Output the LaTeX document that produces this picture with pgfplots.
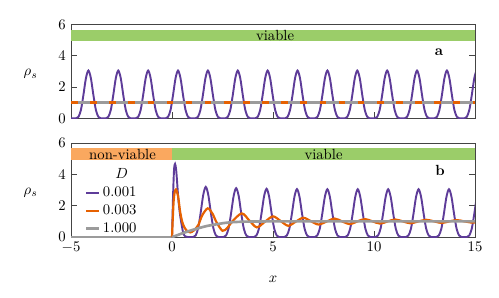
\documentclass[border=0pt]{standalone}
\usepackage{pgfplots}
\pgfplotsset{compat=1.18}
\definecolor{cpur}{HTML}{5E3C99}
\definecolor{corg}{HTML}{E66101}
\definecolor{cgry}{HTML}{9B9B9B}
\definecolor{bgreen}{HTML}{9BCD69}
\definecolor{borange}{HTML}{FAA85F}
\definecolor{framec}{HTML}{444444}
\pgfplotsset{
  myaxis/.style={
    scale only axis, width=274.7pt, height=64pt,
    xmin=-5, xmax=15, ymin=0, ymax=6,
    xtick={-5,0,5,10,15}, ytick={0,2,4,6},
    xtick pos=left, ytick pos=both, yticklabel pos=left,
    tick align=inside,
    axis line style={framec, line width=0.6pt},
    major tick style={framec, line width=0.6pt},
    ylabel={$\rho_s$},
    ylabel style={rotate=-90, at={(axis description cs:-0.1,0.47)}, anchor=center},
  },
  legend image code/.code={\draw[#1] (0cm,0cm) -- (0.3cm,0cm);},
}
\begin{document}
\begin{tikzpicture}
% top panel
\begin{axis}[myaxis, at={(0,80.7pt)}, anchor=south west, xticklabels={}]
\addplot[draw=none, fill=bgreen, forget plot] coordinates {(-5,4.92) (15,4.92) (15,5.66) (-5,5.66)} -- cycle;
\node at (axis cs:5.1,5.29) {viable};
\addplot[cpur, line width=1.3pt, smooth] coordinates {
(-5,0)
(-4.880,0) (-4.756,0) (-4.633,0.10) (-4.510,0.54) (-4.387,1.49) (-4.263,2.56) (-4.140,3.05) (-4.017,2.56) (-3.893,1.49) (-3.770,0.54) (-3.647,0.10) (-3.524,0)
(-3.401,0) (-3.277,0) (-3.154,0.10) (-3.031,0.54) (-2.908,1.49) (-2.784,2.56) (-2.661,3.05) (-2.538,2.56) (-2.414,1.49) (-2.291,0.54) (-2.168,0.10) (-2.045,0)
(-1.922,0) (-1.798,0) (-1.675,0.10) (-1.552,0.54) (-1.429,1.49) (-1.305,2.56) (-1.182,3.05) (-1.059,2.56) (-0.935,1.49) (-0.812,0.54) (-0.689,0.10) (-0.566,0)
(-0.443,0) (-0.319,0) (-0.196,0.10) (-0.073,0.54) (0.050,1.49) (0.174,2.56) (0.297,3.05) (0.420,2.56) (0.544,1.49) (0.667,0.54) (0.790,0.10) (0.913,0)
(1.036,0) (1.160,0) (1.283,0.10) (1.406,0.54) (1.529,1.49) (1.653,2.56) (1.776,3.05) (1.899,2.56) (2.023,1.49) (2.146,0.54) (2.269,0.10) (2.392,0)
(2.515,0) (2.639,0) (2.762,0.10) (2.885,0.54) (3.008,1.49) (3.132,2.56) (3.255,3.05) (3.378,2.56) (3.502,1.49) (3.625,0.54) (3.748,0.10) (3.871,0)
(3.994,0) (4.118,0) (4.241,0.10) (4.364,0.54) (4.487,1.49) (4.611,2.56) (4.734,3.05) (4.857,2.56) (4.981,1.49) (5.104,0.54) (5.227,0.10) (5.350,0)
(5.473,0) (5.597,0) (5.720,0.10) (5.843,0.54) (5.966,1.49) (6.090,2.56) (6.213,3.05) (6.336,2.56) (6.460,1.49) (6.583,0.54) (6.706,0.10) (6.829,0)
(6.952,0) (7.076,0) (7.199,0.10) (7.322,0.54) (7.445,1.49) (7.569,2.56) (7.692,3.05) (7.815,2.56) (7.939,1.49) (8.062,0.54) (8.185,0.10) (8.308,0)
(8.431,0) (8.555,0) (8.678,0.10) (8.801,0.54) (8.924,1.49) (9.048,2.56) (9.171,3.05) (9.294,2.56) (9.418,1.49) (9.541,0.54) (9.664,0.10) (9.787,0)
(9.910,0) (10.034,0) (10.157,0.10) (10.280,0.54) (10.403,1.49) (10.527,2.56) (10.650,3.05) (10.773,2.56) (10.897,1.49) (11.020,0.54) (11.143,0.10) (11.266,0)
(11.389,0) (11.513,0) (11.636,0.10) (11.759,0.54) (11.882,1.49) (12.006,2.56) (12.129,3.05) (12.252,2.56) (12.376,1.49) (12.499,0.54) (12.622,0.10) (12.745,0)
(12.868,0) (12.992,0) (13.115,0.10) (13.238,0.54) (13.361,1.49) (13.485,2.56) (13.608,3.05) (13.731,2.56) (13.855,1.49) (13.978,0.54) (14.101,0.10) (14.224,0)
(14.347,0) (14.471,0) (14.594,0.10) (14.717,0.54) (14.840,1.49) (14.964,2.56) (15.087,3.05) (15.210,2.56)
};
\addplot[cgry, line width=1.8pt] coordinates {(-5,1) (15,1)};
\addplot[corg, line width=1.8pt, dash pattern=on 4.5pt off 8.5pt] coordinates {(-5,1) (15,1)};
\node[font=\bfseries] at (axis cs:13.22,4.22) {a};
\end{axis}
% bottom panel
\begin{axis}[myaxis, at={(0,0)}, anchor=south west,
  xlabel={$x$}, xlabel style={at={(axis description cs:0.5,-0.451)}, anchor=center},
  legend style={draw=none, fill=none, at={(axis cs:-4.55,3.6)}, anchor=north west},
  legend cell align=left]
\addplot[draw=none, fill=borange, forget plot] coordinates {(-5,4.92) (0,4.92) (0,5.66) (-5,5.66)} -- cycle;
\addplot[draw=none, fill=bgreen, forget plot] coordinates {(0,4.92) (15,4.92) (15,5.66) (0,5.66)} -- cycle;
\node at (axis cs:-2.45,5.29) {non-viable};
\node at (axis cs:7.5,5.29) {viable};
\addplot[cpur, line width=1.3pt, forget plot] coordinates {(-5,0) (0,0)};
\addplot[corg, line width=1.5pt, forget plot] coordinates {(-5,0) (0,0)};
\addplot[cgry, line width=1.8pt, forget plot] coordinates {(-5,0) (0,0)};
\addplot[cpur, line width=1.3pt, smooth] coordinates {
(0,0) (0.05,2.6) (0.10,4.3) (0.15,4.66) (0.21,4.2) (0.31,2.47) (0.38,1.6) (0.45,0.98) (0.56,0.24) (0.66,0.04) (0.79,0)
(0.917,0) (1.043,0) (1.168,0.10) (1.294,0.57) (1.419,1.56) (1.545,2.69) (1.670,3.20) (1.795,2.69) (1.921,1.56) (2.046,0.57) (2.172,0.10) (2.297,0)
(2.422,0) (2.548,0) (2.673,0.10) (2.799,0.55) (2.924,1.52) (3.050,2.62) (3.175,3.12) (3.300,2.62) (3.426,1.52) (3.551,0.55) (3.677,0.10) (3.802,0)
(3.927,0) (4.053,0) (4.178,0.10) (4.304,0.55) (4.429,1.50) (4.555,2.59) (4.680,3.08) (4.805,2.59) (4.931,1.50) (5.056,0.55) (5.182,0.10) (5.307,0)
(5.432,0) (5.558,0) (5.683,0.10) (5.809,0.54) (5.934,1.49) (6.060,2.57) (6.185,3.06) (6.310,2.57) (6.436,1.49) (6.561,0.54) (6.687,0.10) (6.812,0)
(6.937,0) (7.063,0) (7.188,0.10) (7.314,0.54) (7.439,1.49) (7.565,2.56) (7.690,3.05) (7.815,2.56) (7.941,1.49) (8.066,0.54) (8.192,0.10) (8.317,0)
(8.442,0) (8.568,0) (8.693,0.10) (8.819,0.54) (8.944,1.49) (9.070,2.56) (9.195,3.05) (9.320,2.56) (9.446,1.49) (9.571,0.54) (9.697,0.10) (9.822,0)
(9.947,0) (10.073,0) (10.198,0.10) (10.324,0.54) (10.449,1.49) (10.575,2.56) (10.700,3.05) (10.825,2.56) (10.951,1.49) (11.076,0.54) (11.202,0.10) (11.327,0)
(11.452,0) (11.578,0) (11.703,0.10) (11.829,0.54) (11.954,1.49) (12.080,2.56) (12.205,3.05) (12.330,2.56) (12.456,1.49) (12.581,0.54) (12.707,0.10) (12.832,0)
(12.957,0) (13.083,0) (13.208,0.10) (13.334,0.54) (13.459,1.49) (13.585,2.56) (13.710,3.05) (13.835,2.56) (13.961,1.49) (14.086,0.54) (14.212,0.10) (14.337,0)
(14.462,0) (14.588,0) (14.713,0.10) (14.839,0.54) (14.964,1.49) (15.090,2.56) (15.215,3.05)
};
\addlegendentry{0.001}
\addplot[corg, line width=1.5pt, smooth] coordinates {
(0,0) (0.03,1.0) (0.08,2.3) (0.13,2.85) (0.2,3.04) (0.3,2.6) (0.4,1.62) (0.5,1.0) (0.6,0.65) (0.75,0.38) (0.9,0.3) (1.08,0.42) (1.3,0.77) (1.5,1.4) (1.77,1.83) (2.0,1.5) (2.2,0.95) (2.5,0.4) (2.75,0.6) (2.95,0.95) (3.45,1.51) (3.83,1.05) (4.2,0.62) (4.6,0.98) (5.0,1.32) (5.38,1.02) (5.75,0.72) (6.12,0.98) (6.5,1.23) (6.88,1.01) (7.25,0.8) (7.65,0.99) (8.05,1.18) (8.42,1.0) (8.8,0.83) (9.18,1.0) (9.55,1.15) (9.93,1.0) (10.3,0.86) (10.68,1.0) (11.05,1.12) (11.43,1.0) (11.8,0.88) (12.2,1.0) (12.6,1.1) (12.98,1.0) (13.35,0.9) (13.72,1.0) (14.1,1.08) (14.48,1.0) (14.85,0.92) (15,0.93)
};
\addlegendentry{0.003}
\addplot[cgry, line width=1.8pt, smooth] coordinates {
(0,0) (0.3,0.14) (0.64,0.3) (1.0,0.45) (1.3,0.56) (1.7,0.7) (2.13,0.8) (2.6,0.9) (3.0,0.95) (3.5,0.98) (4.0,0.99) (5,1.0) (8,1.0) (15,1.0)
};
\addlegendentry{1.000}
\node at (axis cs:-2.49,4.07) {$D$};
\node[font=\bfseries] at (axis cs:13.27,4.23) {b};
\end{axis}
\path (-48.3pt,-40.8pt) rectangle (291pt,161.2pt);
\end{tikzpicture}
\end{document}
